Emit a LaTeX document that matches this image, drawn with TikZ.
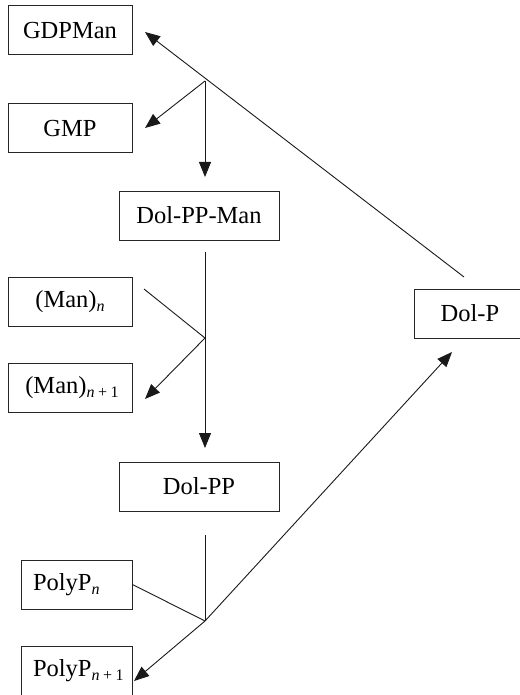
\documentclass[tikz,border=0pt]{standalone}
\usepackage{fontspec}
\setmainfont{Liberation Serif}
\usetikzlibrary{arrows.meta}
\newcommand\mysub[1]{\raisebox{-0.35ex}{\fontsize{16}{16}\selectfont #1}}
\begin{document}
\begin{tikzpicture}[x=1pt,y=-1pt,
  box/.style={draw=black!85,line width=1pt,minimum height=49pt,inner sep=0pt,
    font=\fontsize{24.5}{28}\selectfont},
  lbox/.style={box,text width=87pt,inner xsep=12pt,align=left},
  conn/.style={line width=0.9pt,draw=black!90},
  arr/.style={conn,-{Triangle[length=15pt,width=12pt]}}]
\useasboundingbox (0,0) rectangle (519,695);
% boxes
\node[box,minimum width=124pt] (gdpman) at (70,30.5) {GDPMan};
\node[box,minimum width=124pt] (gmp) at (70,128.5) {GMP};
\node[box,minimum width=160pt] (dolppman) at (199,215.5) {Dol-PP-Man};
\node[box,minimum width=124pt] (mann) at (70,301.5) {(Man)\mysub{\textit{n}}};
\node[box,minimum width=124pt] (mann1) at (70,387.5) {\hspace*{4pt}(Man)\mysub{\textit{n}\:+\:1}};
\node[box,minimum width=160pt] (dolpp) at (199,486.5) {Dol-PP};
\node[lbox] (polypn) at (76.5,584.5) {PolyP\mysub{\textit{n}}};
\node[lbox] (polypn1) at (76.5,671) {PolyP\mysub{\textit{n}\:+\:1}};
\node[box,minimum width=112pt] (dolp) at (470,313.5) {Dol-P};
% coordinates
\coordinate (b1) at (205,81);
\coordinate (b2) at (205,338);
\coordinate (b3) at (205,621);
\coordinate (s1) at (464,277);
\coordinate (t1) at (145,32);
\coordinate (t2) at (145,128);
\coordinate (t3) at (205,177);
\coordinate (s4) at (205,252);
\coordinate (t4) at (205,448);
\coordinate (s5) at (144,289);
\coordinate (t5) at (145,399);
\coordinate (s6) at (205,535);
\coordinate (t7) at (134,681);
\coordinate (t8) at (452,352);
% connectors
\draw[arr] (s1) -- (t1);
\draw[arr] (b1) -- (t2);
\draw[arr] (b1) -- (t3);
\draw[arr] (s4) -- (t4);
\draw[conn] (s5) -- (b2);
\draw[arr] (b2) -- (t5);
\draw[conn] (s6) -- (b3);
\draw[conn] (polypn.east) -- (b3);
\draw[arr] (b3) -- (t7);
\draw[arr] (b3) -- (t8);
\end{tikzpicture}
\end{document}
